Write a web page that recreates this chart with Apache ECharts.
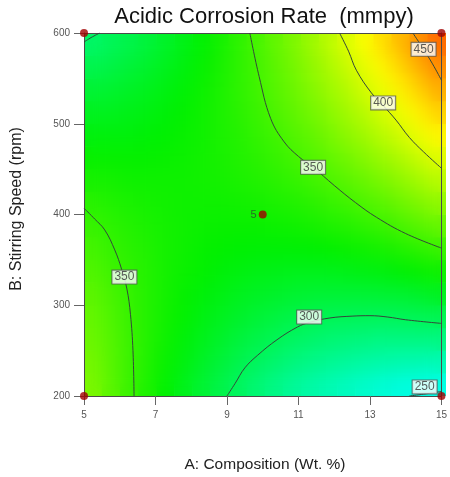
<!DOCTYPE html>
<html><head><meta charset="utf-8">
<script src="https://cdn.jsdelivr.net/npm/echarts@6/dist/echarts.min.js"></script>
<style>
html,body{margin:0;padding:0;background:#fff}
#wrap{position:relative;width:450px;height:477px}
.plot{position:absolute;left:84px;top:33px;width:362px;height:363px}
#clip{overflow:hidden}
#hs{width:362px;height:363px;filter:blur(9px)}
#c{position:absolute;left:0;top:0;width:450px;height:477px}
</style>
</head><body>
<div id="wrap">
  <div id="hb" class="plot"></div>
  <div id="clip" class="plot"><div id="hs"></div></div>
  <div id="c"></div>
</div>
<script>
// Cell centres of the response grid
const compositionCenters = [5.25,5.75,6.25,6.75,7.25,7.75,8.25,8.75,9.25,9.75,10.25,10.75,11.25,11.75,12.25,12.75,13.25,13.75,14.25,14.75];
const speedCenters = [212.5,237.5,262.5,287.5,312.5,337.5,362.5,387.5,412.5,437.5,462.5,487.5,512.5,537.5,562.5,587.5];
// Estimated corrosion rate (mmpy), one row per speed (bottom to top)
const rate = [
  [373,362,352,342,333,324,316,309,302,295,289,283,278,274,270,266,263,260,258,257],
  [371,361,352,343,335,328,320,314,308,302,297,292,288,285,282,279,277,275,274,273],
  [368,360,352,344,337,330,324,319,313,309,305,301,298,295,293,291,290,290,290,290],
  [366,358,351,344,338,333,327,323,319,315,312,309,307,305,304,304,303,304,305,306],
  [363,356,350,344,339,334,330,327,323,321,319,317,316,315,315,315,316,317,319,322],
  [359,353,348,344,339,336,333,330,328,326,325,324,324,324,325,327,328,331,334,337],
  [355,350,346,343,339,337,334,333,332,331,331,331,332,333,335,337,340,343,347,352],
  [351,347,344,341,339,337,336,335,335,335,336,337,339,342,344,348,351,356,361,366],
  [346,343,341,339,338,337,337,337,338,339,341,343,346,350,353,358,362,368,374,380],
  [340,339,337,337,337,337,338,339,341,343,346,349,353,357,362,367,373,379,386,393],
  [335,334,334,334,335,336,338,340,343,346,350,354,359,364,370,376,383,390,398,406],
  [328,329,329,331,332,335,337,341,344,349,353,359,364,371,378,385,393,401,410,419],
  [322,323,325,327,330,333,337,341,346,351,357,363,370,377,385,393,402,411,421,431],
  [315,317,320,323,327,331,336,341,347,353,360,367,375,383,391,401,410,421,431,443],
  [307,310,314,318,323,328,334,340,347,354,362,370,379,388,398,408,419,430,442,454],
  [299,304,308,313,319,325,332,339,347,355,364,373,383,393,404,415,427,439,452,465]
];
const xTicks = [5,7,9,11,13,15];
const yTicks = [200,300,400,500,600];

// Contour lines: [composition, speed]
const contour350Left = [[5,407],[5.3,395],[5.58,383],[5.86,361],[6.05,340],[6.2,318],[6.3,290],[6.37,250],[6.4,200]];
const contour350Mid = [[9.64,600],[9.9,552],[10.22,506],[10.6,480],[11.0,464],[11.41,452],[12.0,432],[12.6,413],[13.18,397],[14.0,379],[15,363]];
const contour400 = [[12.15,600],[12.4,580],[12.62,559],[13.04,534],[13.37,520],[13.73,504],[14.1,485],[14.5,469],[15,451]];
const contour450 = [[14.2,600],[14.5,582],[14.75,566],[15,548]];
const contour300Bottom = [[9.0,200],[9.23,214],[9.5,231],[9.86,245],[10.4,262],[10.97,276],[11.3,281],[11.88,286],[12.5,288],[13.0,288.5],[13.5,287],[14.0,284],[15,280]];
const contour300Top = [[5,590],[5.2,595],[5.44,600]];
const contour250 = [[14.1,200],[14.5,202],[15,205]];
const contourLabels = [[6.13,331,'350'],[11.41,452,'350'],[13.37,523,'400'],[14.5,582,'450'],[11.3,287,'300'],[14.53,210,'250']];

// Design points
const designPoints = [[5,200],[5,600],[15,200],[15,600],[10,400]];
const designPointLabels = ['','','','','5'];

const heatData = [];
rate.forEach((row, j) => row.forEach((v, i) => heatData.push([i, j, v])));

function heatOption() {
  return {
    animation: false,
    grid: {left: 0, top: 0, right: 0, bottom: 0},
    xAxis: {type: 'category', data: compositionCenters.map(String), show: false},
    yAxis: {type: 'category', data: speedCenters.map(String), show: false},
    visualMap: {type: 'continuous', show: false, dimension: 2, min: 165, max: 500,
      inRange: {color: ['#0000ff', '#00ffff', '#00f000', '#ffff00', '#ff0000']}},
    series: [{type: 'heatmap', data: heatData, silent: true, itemStyle: {borderWidth: 0}}]
  };
}
echarts.init(document.getElementById('hb')).setOption(heatOption());
echarts.init(document.getElementById('hs')).setOption(heatOption());

const lineColor = '#34473a';
function contourSeries(data) {
  return {type: 'line', data: data, smooth: 0.4, symbol: 'none',
    lineStyle: {color: lineColor, width: 1}, z: 5, silent: true};
}
const axisLineStyle = {show: true, onZero: false, lineStyle: {color: '#4a4a4a', width: 1}};

const chart = echarts.init(document.getElementById('c'));
chart.setOption({
  animation: false,
  backgroundColor: 'transparent',
  grid: {left: 84, top: 33, width: 362, height: 363},
  xAxis: [
    {type: 'value', min: 5, max: 15, interval: 2, position: 'bottom', axisLine: axisLineStyle,
      axisTick: {show: true, length: 9, lineStyle: {color: '#666'}},
      axisLabel: {color: '#555', fontSize: 10, margin: 14, fontFamily: 'Liberation Sans, Arial',
        customValues: xTicks},
      splitLine: {show: false}},
    {type: 'value', min: 5, max: 15, position: 'top', axisLine: axisLineStyle,
      axisTick: {show: false}, axisLabel: {show: false}, splitLine: {show: false}}
  ],
  yAxis: [
    {type: 'value', min: 200, max: 600, interval: 100, position: 'left', axisLine: axisLineStyle,
      axisTick: {show: true, length: 10, lineStyle: {color: '#666'}},
      axisLabel: {color: '#555', fontSize: 10, margin: 14, fontFamily: 'Liberation Sans, Arial',
        customValues: yTicks},
      splitLine: {show: false}},
    {type: 'value', min: 200, max: 600, position: 'right', axisLine: axisLineStyle,
      axisTick: {show: false}, axisLabel: {show: false}, splitLine: {show: false}}
  ],
  graphic: [
    {type: 'text', x: 264, y: 17, style: {text: 'Acidic Corrosion Rate  (mmpy)', font: '22px "Liberation Sans", Arial', fill: '#111', textAlign: 'center', textVerticalAlign: 'middle'}},
    {type: 'text', x: 265, y: 465, style: {text: 'A: Composition (Wt. %)', font: '15.5px "Liberation Sans", Arial', fill: '#222', textAlign: 'center', textVerticalAlign: 'middle'}},
    {type: 'text', x: 17, y: 209, rotation: Math.PI / 2, style: {text: 'B: Stirring Speed (rpm)', font: '16px "Liberation Sans", Arial', fill: '#222', textAlign: 'center', textVerticalAlign: 'middle'}}
  ],
  series: [
    contourSeries(contour350Left),
    contourSeries(contour350Mid),
    contourSeries(contour400),
    contourSeries(contour450),
    contourSeries(contour300Bottom),
    contourSeries(contour300Top),
    contourSeries(contour250),
    {type: 'scatter', symbolSize: 0, z: 6, silent: true,
      data: contourLabels.map(d => ({value: [d[0], d[1]], name: d[2]})),
      label: {show: true, position: 'inside', formatter: p => p.name, color: '#333', fontSize: 12,
        fontFamily: 'Liberation Sans, Arial', backgroundColor: '#fff', borderColor: '#555', borderWidth: 1,
        padding: [1, 2, 0, 2]}},
    {type: 'scatter', symbolSize: 8, z: 7, silent: true, clip: false,
      itemStyle: {color: '#a00000'},
      data: designPoints.map((d, i) => ({value: d, name: designPointLabels[i]})),
      label: {show: true, position: 'left', distance: 2, formatter: p => p.name, color: '#2e4a2e', fontSize: 11,
        fontFamily: 'Liberation Sans, Arial'}}
  ]
});
</script></body></html>
